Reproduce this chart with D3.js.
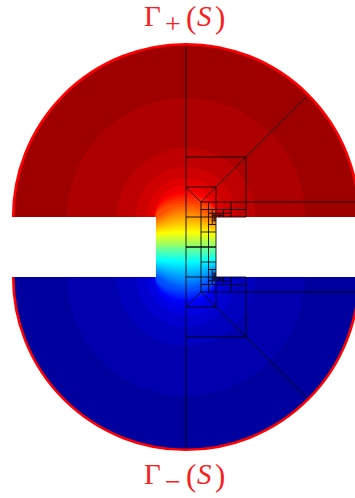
<!DOCTYPE html>
<html>
<head>
<meta charset="utf-8">
<script src="https://cdnjs.cloudflare.com/ajax/libs/d3/7.8.5/d3.min.js"></script>
<style>
html, body { margin: 0; padding: 0; background: #fff; overflow: hidden; }
text { font-family: "Liberation Serif", serif; fill: #f82020; }
</style>
</head>
<body>
<div id="chart"></div>
<script>
// jet colormap
const jetStops = [0, 0.125, 0.375, 0.625, 0.875, 1]
const jetColors = ['#800000', '#ff0000', '#ffff00', '#00ffff', '#0000ff', '#000080'].reverse()

// potential levels for the upper half, read outside in (lower half is 1 - v)
const levelValues = [0.97, 0.955, 0.938, 0.922, 0.906, 0.89, 0.875, 0.859, 0.844, 0.828, 0.812, 0.797, 0.781, 0.766, 0.75, 0.734, 0.719, 0.703, 0.688, 0.672, 0.656, 0.641, 0.625, 0.609, 0.594, 0.578, 0.562, 0.547, 0.531, 0.516, 0.5]
const levelTop = [6.76, 4.97, 3.3, 2.67, 2.3, 2.07, 1.87, 1.78, 1.7, 1.62, 1.53, 1.45, 1.37, 1.28, 1.2, 1.12, 1.03, 0.95, 0.87, 0.78, 0.7, 0.62, 0.53, 0.47, 0.4, 0.33, 0.27, 0.2, 0.13, 0.07, 0]
const levelEdge = [1, 1, 1, 1, 1, 1, 1, 1, 1, 1, 1, 1, 0.96, 0.91, 0.86, 0.81, 0.76, 0.71, 0.66, 0.61, 0.57, 0.52, 0.47, 0.42, 0.36, 0.3, 0.25, 0.19, 0.13, 0.06, 0]
const levelRx = [5.76, 3.97, 2.3, 1.67, 1.3, 1.07, 1.06, 1.05, 1.04, 1.03, 1.02, 1.01, 1, 1, 1, 1, 1, 1, 1, 1, 1, 1, 1, 1, 1, 1, 1, 1, 1, 1, 1]

// mesh edges of the upper half [x1, y1, x2, y2], mirrored for the lower half
const meshEdges = [
  [0, 0, 0, 6.68], [0, 0, 1, 0], [0, 1, 2, 1], [0, 3, 2, 3], [2, 3, 2, 1],
  [0, 2, 1, 2], [1, 2, 1, 1], [1, 1, 1, 0],
  [0, 2, 0.5, 1.5], [0.5, 1.5, 1, 2], [1, 2, 2, 3], [2, 3, 4, 5],
  [0.5, 1.5, 5.72, 1.5], [0.5, 0, 0.5, 1.5], [0.75, 0, 0.75, 1.5],
  [0.5, 0.5, 1, 0.5], [0.5, 1.25, 2, 1.25], [1.5, 1, 1.5, 1.5],
  [0.75, 0.75, 1, 0.75], [0.875, 0.75, 0.875, 1.25], [0.75, 1.125, 1.5, 1.125],
  [1.25, 1, 1.25, 1.25], [0.875, 1.0625, 1.25, 1.0625], [1.125, 1, 1.125, 1.125],
  [0.875, 0.875, 1, 0.875], [0.9375, 0.875, 0.9375, 1.125], [0.9375, 0.9375, 1, 0.9375]
]

const width = 355, height = 498
const discRadius = 5.76

const x = d3.scaleLinear().domain([-6, 6]).range([6, 366])
const y = d3.scaleLinear().domain([-7, 7]).range([457, 37])
const color = d3.scaleLinear().domain(jetStops).range(jetColors)

const svg = d3.select('#chart').append('svg')
  .attr('width', width).attr('height', height)
  .style('display', 'block')

const px = r => x(r) - x(0)

// half disc plus half of the strip, sign = 1 on top, -1 below
function regionPath(sign) {
  const sweep = sign > 0 ? 1 : 0
  const r = px(discRadius)
  return `M${x(-discRadius)},${y(sign)} A${r},${r} 0 0 ${sweep} ${x(discRadius)},${y(sign)} ` +
    `L${x(1)},${y(sign)} L${x(1)},${y(0)} L${x(-1)},${y(0)} L${x(-1)},${y(sign)} Z`
}

// one level: arc over the top, then straight down to the middle of the strip
function levelPath(i, sign) {
  const t = y(sign * levelTop[i]), e = y(sign * levelEdge[i]), r = levelRx[i]
  const base = y(0)
  if (levelEdge[i] === 1) {
    const sweep = sign > 0 ? 1 : 0
    return `M${x(-r)},${e} A${px(r)},${Math.abs(t - e)} 0 0 ${sweep} ${x(r)},${e} L${x(r)},${base} L${x(-r)},${base} Z`
  }
  const k = e + (t - e) * 0.5
  return `M${x(-1)},${e} C${x(-0.65)},${k} ${x(-0.45)},${t} ${x(0)},${t} ` +
    `C${x(0.45)},${t} ${x(0.65)},${k} ${x(1)},${e} L${x(1)},${base} L${x(-1)},${base} Z`
}

const defs = svg.append('defs')
;[1, -1].forEach(sign => {
  const name = sign > 0 ? 'upper' : 'lower'
  defs.append('clipPath').attr('id', `clip-${name}`)
    .append('path').attr('d', regionPath(sign))

  svg.append('g').attr('clip-path', `url(#clip-${name})`)
    .selectAll('path').data(levelValues).join('path')
    .attr('d', (v, i) => levelPath(i, sign))
    .attr('fill', v => color(sign > 0 ? v : 1 - v))
})

// mesh
const mesh = svg.append('g')
  .attr('stroke', '#000').attr('stroke-opacity', 0.85).attr('stroke-width', 1)
  .attr('fill', 'none')
;[1, -1].forEach(sign => {
  mesh.selectAll(null).data(meshEdges).join('line')
    .attr('x1', d => x(d[0])).attr('y1', d => y(sign * d[1]))
    .attr('x2', d => x(d[2])).attr('y2', d => y(sign * d[3]))
})

// boundary arcs Gamma+ and Gamma-
;[1, -1].forEach(sign => {
  const r = px(discRadius)
  svg.append('path')
    .attr('d', `M${x(-discRadius)},${y(sign)} A${r},${r} 0 0 ${sign > 0 ? 1 : 0} ${x(discRadius)},${y(sign)}`)
    .attr('fill', 'none').attr('stroke', '#ff0000').attr('stroke-width', 2.6)
})

function label(baseline, sub) {
  const t = svg.append('text').attr('y', baseline)
  t.append('tspan').attr('x', 144).attr('font-size', 29).text('Γ')
  t.append('tspan').attr('x', 165).attr('y', baseline + 7).attr('font-size', 28).text(sub)
  t.append('tspan').attr('x', 186).attr('y', baseline + 2).attr('font-size', 31).text('(')
  t.append('tspan').attr('x', 197).attr('y', baseline).attr('font-size', 29).attr('font-style', 'italic').text('S')
  t.append('tspan').attr('x', 215).attr('y', baseline + 2).attr('font-size', 31).text(')')
}
label(26, '+')
label(484, '−')
</script>
</body>
</html>
